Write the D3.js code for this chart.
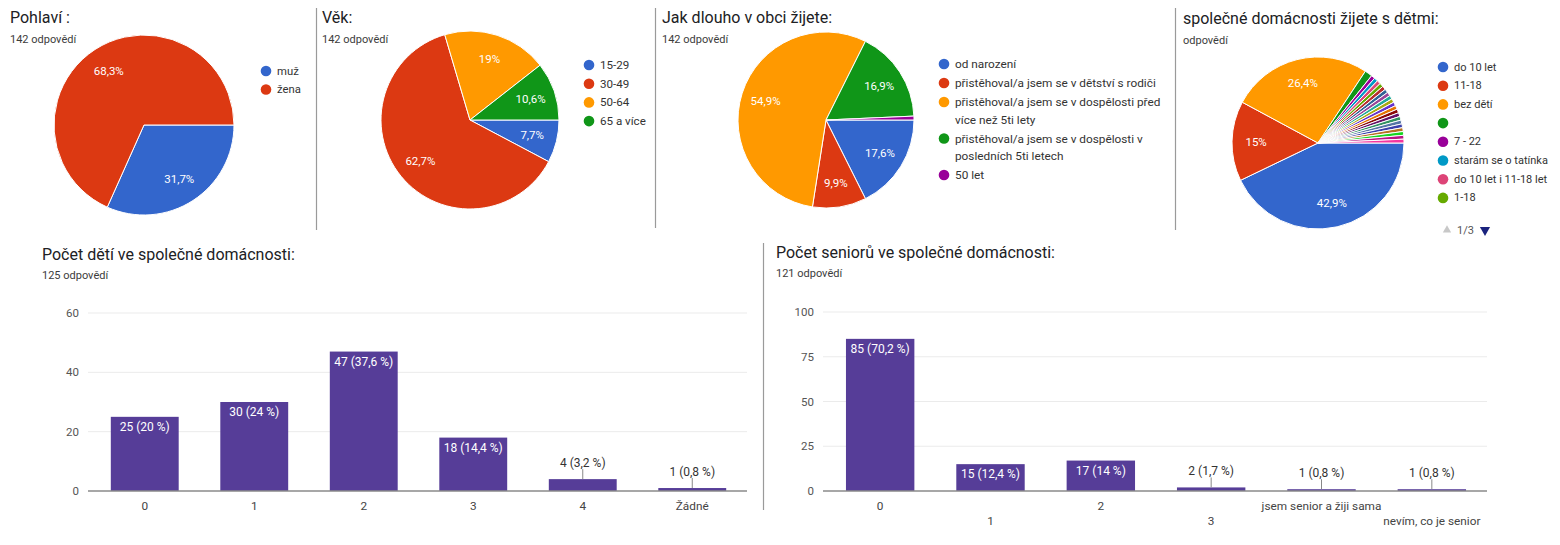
<!DOCTYPE html>
<html>
<head>
<meta charset="utf-8">
<script src="https://cdn.jsdelivr.net/npm/d3@7"></script>
<style>
  html, body { margin: 0; padding: 0; background: #ffffff; }
  svg { display: block; font-family: Roboto, "Noto Sans", Arial, sans-serif; }
</style>
</head>
<body>
<svg id="chart" width="1560" height="545"></svg>
<script>
// ---------------- DATA ----------------
const pie1Labels = ["muž", "žena"];
const pie1Values = [45, 97];

const pie2Labels = ["15-29", "30-49", "50-64", "65 a více"];
const pie2Values = [11, 89, 27, 15];

const pie3Labels = [
  ["od narození"],
  ["přistěhoval/a jsem se v dětství s rodiči"],
  ["přistěhoval/a jsem se v dospělosti před", "více než 5ti lety"],
  ["přistěhoval/a jsem se v dospělosti v", "posledních 5ti letech"],
  ["50 let"]
];
const pie3Values = [25, 14, 78, 24, 1];

// only first legend page (1/3) is visible
const pie4LegendLabels = ["do 10 let", "11-18", "bez dětí", "", "7 - 22", "starám se o tatínka", "do 10 let i 11-18 let", "1-18"];
const pie4Values = [60, 21, 37, 2, 1, 1, 1, 1, 1, 1, 1, 1, 1, 1, 1, 1, 1, 1, 1, 1, 1, 1, 1, 1];

const bar1Categories = ["0", "1", "2", "3", "4", "Žádné"];
const bar1Values = [25, 30, 47, 18, 4, 1];
const bar1Ticks = [0, 20, 40, 60];

const bar2Categories = ["0", "1", "2", "3", "jsem senior a žiji sama", "nevím, co je senior"];
const bar2Values = [85, 15, 17, 2, 1, 1];
const bar2Ticks = [0, 25, 50, 75, 100];

const googleColors = ["#3366cc", "#dc3912", "#ff9900", "#109618", "#990099", "#0099c6", "#dd4477", "#66aa00",
  "#b82e2e", "#316395", "#994499", "#22aa99", "#aaaa11", "#6633cc", "#e67300", "#8b0707",
  "#651067", "#329262", "#5574a6", "#3b3eac", "#b77322", "#16d620", "#b91383", "#f4359e"];

// ---------------- DRAW ----------------
const svg = d3.select("#chart");
const fmtPct = v => String(+v.toFixed(1)).replace(".", ",");

function header(x, yTitle, title, sub, ySub) {
  svg.append("text").attr("x", x).attr("y", yTitle).attr("font-size", 16)
    .attr("fill", "#202124").text(title);
  svg.append("text").attr("x", x).attr("y", ySub).attr("font-size", 11)
    .attr("fill", "#3c3c3c").text(sub);
}

function separator(x, y1, y2) {
  svg.append("line").attr("x1", x).attr("x2", x).attr("y1", y1).attr("y2", y2)
    .attr("stroke", "#9a9a9a").attr("stroke-width", 1.2);
}

function drawPie(values, cx, cy, r) {
  const total = d3.sum(values);
  const pie = d3.pie().sort(null).value(d => d)
    .startAngle(Math.PI / 2).endAngle(Math.PI / 2 + 2 * Math.PI);
  const arcs = pie(values);
  const arc = d3.arc().innerRadius(0).outerRadius(r);
  const labelArc = d3.arc().innerRadius(r * 0.72).outerRadius(r * 0.72);
  const g = svg.append("g").attr("transform", `translate(${cx},${cy})`);
  g.selectAll("path").data(arcs).join("path")
    .attr("d", arc)
    .attr("fill", (d, i) => googleColors[i % googleColors.length])
    .attr("stroke", "#ffffff").attr("stroke-width", 1);
  g.selectAll("text").data(arcs.filter(d => d.value / total > 0.05)).join("text")
    .attr("transform", d => `translate(${labelArc.centroid(d)})`)
    .attr("text-anchor", "middle").attr("dominant-baseline", "central")
    .attr("font-size", 11.5).attr("fill", "#ffffff")
    .text(d => fmtPct(d.value / total * 100) + "%");
}

function drawLegend(labels, x, y0, rowH, lineH, fs) {
  let y = y0;
  labels.forEach((lab, i) => {
    const lines = Array.isArray(lab) ? lab : [lab];
    svg.append("circle").attr("cx", x).attr("cy", y).attr("r", 5.3)
      .attr("fill", googleColors[i % googleColors.length]);
    lines.forEach((ln, j) => {
      svg.append("text").attr("x", x + 11).attr("y", y + j * lineH)
        .attr("dominant-baseline", "central").attr("font-size", fs)
        .attr("fill", "#333333").text(ln);
    });
    y += rowH + (lines.length - 1) * lineH;
  });
}

// Separators
separator(316.5, 8, 230);
separator(655.5, 8, 228);
separator(1175.5, 8, 230);
separator(763.5, 243, 510);

// Pie 1
header(10, 23, "Pohlaví :", "142 odpovědí", 43);
drawPie(pie1Values, 144, 125, 90);
drawLegend(pie1Labels, 266, 71, 18.5, 18, 11.3);

// Pie 2
header(322, 23, "Věk:", "142 odpovědí", 43);
drawPie(pie2Values, 470, 120, 89);
drawLegend(pie2Labels, 589, 65, 18.7, 18, 11.6);

// Pie 3
header(662, 23, "Jak dlouho v obci žijete:", "142 odpovědí", 43);
drawPie(pie3Values, 826, 120, 88);
drawLegend(pie3Labels, 944, 64, 19, 17.5, 11.8);

// Pie 4
header(1183, 24, "společné domácnosti žijete s dětmi:", "odpovědí", 44);
drawPie(pie4Values, 1318, 143, 86);
drawLegend(pie4LegendLabels, 1443, 67, 18.7, 18, 11);
// pager
svg.append("path").attr("d", d3.symbol().type(d3.symbolTriangle).size(30)())
  .attr("transform", "translate(1447,230)").attr("fill", "#c8c8c8");
svg.append("text").attr("x", 1457).attr("y", 230).attr("dominant-baseline", "central")
  .attr("font-size", 11).attr("fill", "#555").text("1/3");
svg.append("path").attr("d", d3.symbol().type(d3.symbolTriangle).size(45)())
  .attr("transform", "translate(1485,230) rotate(180)").attr("fill", "#1a237e");

// Bar charts
function drawBars(cats, vals, ticks, total, x0, x1, yTop, yBase, tickX, stagger) {
  const x = d3.scaleBand().domain(cats).range([x0, x1]).paddingInner(0.38).paddingOuter(0.19);
  const y = d3.scaleLinear().domain([0, d3.max(ticks)]).range([yBase, yTop]);
  const g = svg.append("g");
  // grid
  g.selectAll("line.grid").data(ticks.filter(t => t > 0)).join("line")
    .attr("x1", x0 - 2).attr("x2", x1).attr("y1", d => y(d)).attr("y2", d => y(d))
    .attr("stroke", "#ebebeb").attr("stroke-width", 1);
  // y tick labels
  g.selectAll("text.yt").data(ticks).join("text")
    .attr("x", tickX).attr("y", d => y(d)).attr("text-anchor", "end")
    .attr("dominant-baseline", "central").attr("font-size", 11.5).attr("fill", "#555")
    .text(d => d);
  // bars
  const data = cats.map((c, i) => ({ c, v: vals[i], i }));
  g.selectAll("rect").data(data).join("rect")
    .attr("x", d => x(d.c)).attr("width", x.bandwidth())
    .attr("y", d => y(d.v)).attr("height", d => yBase - y(d.v))
    .attr("fill", "#563d98");
  // baseline
  g.append("line").attr("x1", x0 - 2).attr("x2", x1).attr("y1", yBase).attr("y2", yBase)
    .attr("stroke", "#8a8a8a").attr("stroke-width", 1.5);
  // value labels
  data.forEach(d => {
    const cx = x(d.c) + x.bandwidth() / 2;
    const top = y(d.v);
    const label = `${d.v} (${fmtPct(d.v / total * 100)} %)`;
    if (yBase - top > 20) {
      g.append("text").attr("x", cx).attr("y", top + 10).attr("text-anchor", "middle")
        .attr("dominant-baseline", "central").attr("font-size", 12).attr("fill", "#ffffff")
        .text(label);
    } else {
      g.append("line").attr("x1", cx).attr("x2", cx).attr("y1", top - 10).attr("y2", top)
        .attr("stroke", "#888").attr("stroke-width", 1);
      g.append("text").attr("x", cx).attr("y", top - 16).attr("text-anchor", "middle")
        .attr("dominant-baseline", "central").attr("font-size", 12).attr("fill", "#333")
        .text(label);
    }
  });
  // x labels
  data.forEach(d => {
    const cx = x(d.c) + x.bandwidth() / 2;
    const ly = stagger ? (d.i % 2 === 0 ? yBase + 15 : yBase + 30) : yBase + 15;
    g.append("text").attr("x", cx).attr("y", ly).attr("text-anchor", "middle")
      .attr("dominant-baseline", "central").attr("font-size", 11.8).attr("fill", "#444")
      .text(d.c);
  });
}

header(42, 260, "Počet dětí ve společné domácnosti:", "125 odpovědí", 279);
drawBars(bar1Categories, bar1Values, bar1Ticks, d3.sum(bar1Values), 90, 747, 313, 491, 79, false);

header(776, 258, "Počet seniorů ve společné domácnosti:", "121 odpovědí", 277);
drawBars(bar2Categories, bar2Values, bar2Ticks, d3.sum(bar2Values), 825, 1487, 312, 491, 814, true);
</script>
</body>
</html>
